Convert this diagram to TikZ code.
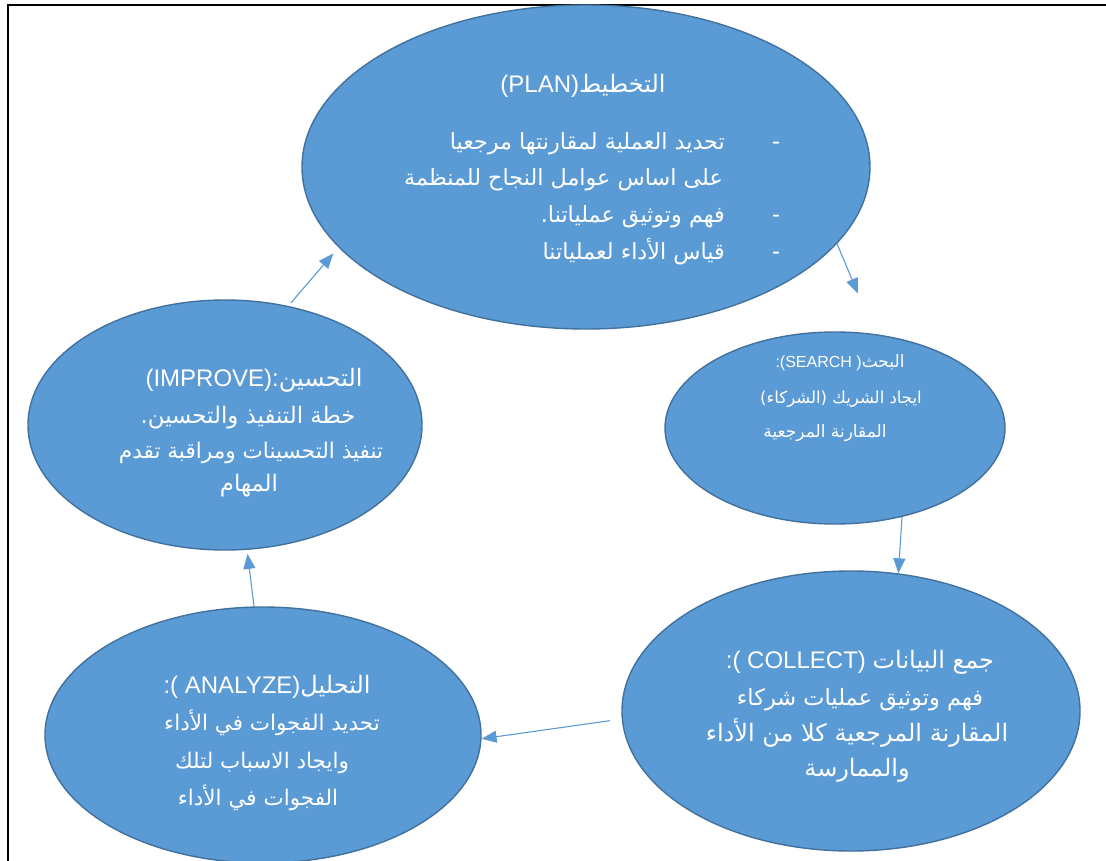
\documentclass[tikz,border=0pt]{standalone}
\usepackage{fontspec}
\setmainfont{Liberation Sans}
\newfontfamily\arabicfont[Script=Arabic]{DejaVu Sans}
\TeXXeTstate=1
\usetikzlibrary{arrows.meta,shapes.geometric}
\definecolor{ovalfill}{HTML}{5B9BD5}
\definecolor{ovaledge}{HTML}{41719C}
\definecolor{linkblue}{HTML}{5B9BD5}
% right-to-left Arabic run
\newcommand\ar[1]{{\arabicfont\beginR #1\endR}}
\newcommand\fs[1]{\fontsize{#1}{#1}\selectfont}
\begin{document}
\begin{tikzpicture}[x=1pt,y=-1pt,
  oval/.style={ellipse, draw=ovaledge, fill=ovalfill, line width=1.4pt, inner sep=0pt},
  txt/.style={text=white, inner sep=0pt, font=\fs{#1}},
  txt/.default=24,
  link/.style={draw=linkblue, line width=1.1pt, -{Triangle[length=15pt,width=12pt]}}]
\useasboundingbox (0,0) rectangle (1106,861);
\fill[white] (0,0) rectangle (1106,861);
% frame
\draw[line width=2.5pt] (8,861) -- (8,5) -- (1106,5);

% the five stages
\node[oval, minimum width=568pt, minimum height=324pt] (plan) at (586,167) {};
\node[oval, minimum width=340pt, minimum height=192pt] (search) at (835,428) {};
\node[oval, minimum width=458pt, minimum height=280pt] (collect) at (851,711) {};
\node[oval, minimum width=436pt, minimum height=256pt] (analyze) at (263,735) {};
\node[oval, minimum width=394pt, minimum height=250pt] (improve) at (225,425) {};

% cycle arrows
\draw[link, shorten >=44pt] (plan.-17.4) -- (search.67);
\draw[link] (search.-53.6) -- (collect.71.7);
\draw[link, shorten <=12pt] (collect.182.6) -- (analyze.-1);
\draw[link, shorten >=4pt] (analyze.94) -- (improve.-80.4);
\draw[link, shorten <=4pt, shorten >=8pt] (improve.62.5) -- (plan.198.2);

% PLAN
\node[txt, anchor=base] (plantitle) at (583,93) {(PLAN)\ar{التخطيط}};
\node[txt=22.3, anchor=base east] (plan1) at (725,150) {\ar{تحديد العملية لمقارنتها مرجعيا}};
\node[txt=22.3, anchor=base east] (plan2) at (723,186) {\ar{على اساس عوامل النجاح للمنظمة}};
\node[txt=22.3, anchor=base east] (plan3) at (725,223) {\ar{فهم وتوثيق عملياتنا.}};
\node[txt=22.3, anchor=base east] (plan4) at (725,260) {\ar{قياس الأداء لعملياتنا}};
\node[txt, anchor=base] (bul1) at (776,150) {-};
\node[txt, anchor=base] (bul3) at (776,223) {-};
\node[txt, anchor=base] (bul4) at (776,260) {-};

% SEARCH
\node[txt=17, anchor=base] (search1) at (840,367) {{\fs{16}:(SEARCH )}\ar{البحث}};
\node[txt=16.5, anchor=base] (search2) at (841,403) {\ar{ايجاد الشريك (الشركاء)}};
\node[txt=17, anchor=base] (search3) at (825,437) {\ar{المقارنة المرجعية}};

% COLLECT
\node[txt, anchor=base] (collect1) at (860,668) {:( COLLECT) \ar{جمع البيانات}};
\node[txt=22.5, anchor=base] (collect2) at (860,705) {\ar{فهم وتوثيق عمليات شركاء}};
\node[txt, anchor=base] (collect3) at (857,741) {\ar{المقارنة المرجعية كلا من الأداء}};
\node[txt, anchor=base] (collect4) at (857,776) {\ar{والممارسة}};

% ANALYZE
\node[txt, anchor=base] (analyze1) at (267,693) {:( ANALYZE)\ar{التحليل}};
\node[txt=21.5, anchor=base] (analyze2) at (272,730) {\ar{تحديد الفجوات في الأداء}};
\node[txt=21.5, anchor=base] (analyze3) at (262,768) {\ar{وايجاد الاسباب لتلك}};
\node[txt=21.5, anchor=base] (analyze4) at (258,805) {\ar{الفجوات في الأداء}};

% IMPROVE
\node[txt, anchor=base] (improve1) at (254,386) {(IMPROVE):\ar{التحسين}};
\node[txt=22.8, anchor=base] (improve2) at (248,423) {\ar{خطة التنفيذ والتحسين.}};
\node[txt=21.6, anchor=base] (improve3) at (251,458) {\ar{تنفيذ التحسينات ومراقبة تقدم}};
\node[txt=22.8, anchor=base] (improve4) at (249,491) {\ar{المهام}};
\end{tikzpicture}
\end{document}
